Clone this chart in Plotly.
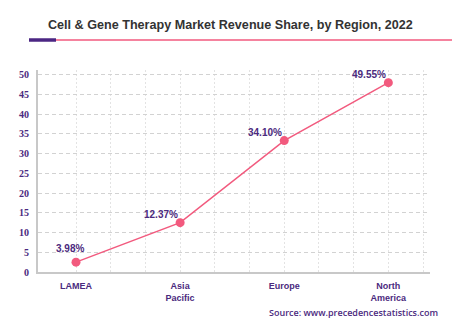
import plotly.graph_objects as go

regions = ["LAMEA", "Asia<br>Pacific", "Europe", "North<br>America"]
values = [2.5, 12.5, 33.3, 48.0]
labels = ["3.98%", "12.37%", "34.10%", "49.55%"]
y_ticks = list(range(0, 55, 5))

PURPLE = "#4b2a7e"
PINK = "#f25a7e"

x_idx = list(range(len(regions)))
# two dashed guide lines between every pair of categories, plus one after the last
minor_x = [i + k / 3 for i in x_idx for k in (1, 2) if i + k / 3 < len(regions) - 0.5] + [x_idx[-1] + 1 / 3]

fig = go.Figure()
fig.add_trace(go.Scatter(
    x=x_idx, y=values, mode="lines+markers",
    line=dict(color=PINK, width=1.5),
    marker=dict(color=PINK, size=9),
    hoverinfo="skip", showlegend=False,
))

VGRID = "#e3e3e3"
fig.update_layout(
    width=452, height=327,
    margin=dict(l=38, r=22, t=70, b=55),
    paper_bgcolor="white", plot_bgcolor="white",
    xaxis=dict(
        range=[-0.365, 3.4],
        tickmode="array", tickvals=x_idx, ticktext=regions,
        showgrid=True, gridcolor=VGRID, griddash="2px,2px", gridwidth=1,
        minor=dict(tickmode="array", tickvals=minor_x, showgrid=True,
                   gridcolor=VGRID, griddash="2px,2px", gridwidth=1),
        showline=True, linecolor="#c8c8c8", linewidth=2,
        zeroline=False, ticks="",
        tickfont=dict(family="Liberation Sans", size=9, color=PURPLE, weight="bold"),
        ticklabelstandoff=4,
        fixedrange=True,
    ),
    yaxis=dict(
        range=[0, 51.2],
        tickmode="array", tickvals=y_ticks,
        showgrid=True, gridcolor="#d2d2d2", griddash="4px,3px", gridwidth=1.3,
        showline=True, linecolor="#c8c8c8", linewidth=2,
        zeroline=False, ticks="",
        tickfont=dict(family="Liberation Sans Narrow", size=10, color=PURPLE, weight="bold"),
        ticklabelstandoff=5,
        fixedrange=True,
    ),
)

# data labels
for i, (v, t) in enumerate(zip(values, labels)):
    if i == 0:
        fig.add_annotation(x=i, y=v, text=t, showarrow=False, xanchor="center", yanchor="middle",
                           xshift=-6, yshift=14,
                           font=dict(family="Liberation Sans", size=10, color=PURPLE, weight="bold"))
    else:
        fig.add_annotation(x=i, y=v, text=t, showarrow=False, xanchor="right", yanchor="middle",
                           yshift=8,
                           font=dict(family="Liberation Sans", size=10, color=PURPLE, weight="bold"))

# Title and source
fig.add_annotation(text="<b>Cell & Gene Therapy Market Revenue Share, by Region, 2022</b>",
                   xref="paper", yref="paper", x=0.49, y=1, yshift=45,
                   xanchor="center", yanchor="middle", showarrow=False,
                   font=dict(family="Liberation Sans", size=12.6, color="#333333"))
fig.add_annotation(text="Source: www.precedencestatistics.com", showarrow=False,
                   xref="paper", yref="paper", x=1, y=0, xanchor="right", yanchor="middle",
                   xshift=10, yshift=-40,
                   font=dict(family="Open Sans", size=9, color=PURPLE, weight=600))

# Header decoration: purple block + pink rule (pixel offsets from plot top-left)
fig.add_shape(type="line", xref="paper", yref="paper",
              xsizemode="pixel", xanchor=0, x0=18, x1=420,
              ysizemode="pixel", yanchor=1, y0=30, y1=30,
              line=dict(color=PINK, width=1.5))
fig.add_shape(type="line", xref="paper", yref="paper",
              xsizemode="pixel", xanchor=0, x0=-9, x1=18,
              ysizemode="pixel", yanchor=1, y0=30, y1=30,
              line=dict(color="#4b2683", width=3.5))
fig.write_html("out.html")
